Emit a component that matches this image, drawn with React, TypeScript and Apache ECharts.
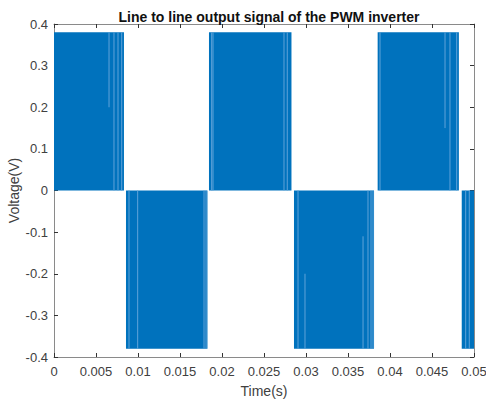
import React, { useEffect, useRef } from "react";
import * as echarts from "echarts";

// Time axis (s) and voltage axis (V)
const xTicks = [0, 0.005, 0.01, 0.015, 0.02, 0.025, 0.03, 0.035, 0.04, 0.045, 0.05];
const yTicks = [-0.4, -0.3, -0.2, -0.1, 0, 0.1, 0.2, 0.3, 0.4];

// Dense PWM switching blocks: [start time, end time, pulse level]
const pulseStart = [0, 0.00857, 0.01845, 0.02857, 0.03853, 0.04854];
const pulseEnd = [0.00833, 0.01827, 0.02827, 0.0381, 0.0482, 0.05];
const pulseLevel = [0.38, -0.38, 0.38, -0.38, 0.38, -0.38];

// Sparse-switching slivers (lighter stripes): time, from, to
const sliverTime = [
  0.00655, 0.00714, 0.00762, 0.00806,
  0.00893, 0.00996, 0.01786, 0.0181,
  0.01877, 0.01893, 0.02738, 0.02777,
  0.02905, 0.02988, 0.03679, 0.03738, 0.03774, 0.03798,
  0.03881, 0.04655, 0.04714, 0.04794,
  0.04901, 0.04944,
];
const sliverFrom = [
  0.38, 0.38, 0.38, 0.38,
  -0.38, -0.38, -0.38, -0.38,
  0.38, 0.38, 0.38, 0.38,
  -0.38, -0.2, -0.11, -0.38, -0.38, -0.38,
  0.38, 0.38, 0.38, 0.38,
  -0.38, -0.38,
];
const sliverTo = [
  0.2, 0, 0, 0,
  0, 0, 0, 0,
  0, 0, 0, 0,
  0, -0.38, -0.38, 0, 0, 0,
  0, 0.15, 0, 0,
  0, 0,
];

const TITLE = "Line to line output signal of the PWM inverter";
const X_NAME = "Time(s)";
const Y_NAME = "Voltage(V)";

export default function App() {
  const ref = useRef<HTMLDivElement>(null);
  useEffect(() => {
    if (!ref.current) return;
    const chart = echarts.init(ref.current, undefined, { renderer: "svg" });
    const blocks = pulseStart.map((s, i) => [s, pulseEnd[i], pulseLevel[i]]);
    const slivers = sliverTime.map((t, i) => [t, sliverFrom[i], sliverTo[i]]);
    const font = "'Liberation Sans', Arial, Helvetica, sans-serif";
    const axisColor = "#8a8a8a";
    const labelColor = "#404040";
    const xCommon = {
      type: "value" as const,
      min: xTicks[0],
      max: xTicks[xTicks.length - 1],
      interval: 0.005,
      splitLine: { show: false },
      axisLine: { show: true, onZero: false, lineStyle: { color: axisColor, width: 1 } },
      axisTick: { show: true, inside: true, length: 4, lineStyle: { color: "#333" } },
    };
    const yCommon = {
      type: "value" as const,
      min: yTicks[0],
      max: yTicks[yTicks.length - 1],
      interval: 0.1,
      splitLine: { show: false },
      axisLine: { show: true, onZero: false, lineStyle: { color: axisColor, width: 1 } },
      axisTick: { show: true, inside: true, length: 4, lineStyle: { color: "#333" } },
    };
    chart.setOption({
      animation: false,
      backgroundColor: "#ffffff",
      title: {
        text: TITLE,
        left: 264,
        top: 5,
        textAlign: "center",
        textStyle: { fontFamily: font, fontSize: 14, fontWeight: "bold", color: "#111" },
      },
      grid: {
        left: 54,
        right: 12,
        top: 24,
        bottom: 44,
        containLabel: false,
        outerBoundsMode: "none",
      },
      xAxis: [
        {
          ...xCommon,
          position: "bottom",
          name: X_NAME,
          nameLocation: "middle",
          nameGap: 27,
          nameMoveOverlap: false,
          nameTextStyle: { fontFamily: font, fontSize: 14, color: labelColor },
          axisLabel: {
            show: true,
            margin: 8,
            fontFamily: font,
            fontSize: 13,
            color: labelColor,
            formatter: (v: number) => String(+v.toFixed(3)),
          },
        },
        { ...xCommon, position: "top", axisLabel: { show: false } },
      ],
      yAxis: [
        {
          ...yCommon,
          position: "left",
          name: Y_NAME,
          nameLocation: "middle",
          nameRotate: 90,
          nameGap: 33,
          nameMoveOverlap: false,
          nameTextStyle: { fontFamily: font, fontSize: 14, color: labelColor },
          axisLabel: {
            show: true,
            margin: 6,
            fontFamily: font,
            fontSize: 13,
            color: labelColor,
            formatter: (v: number) => String(+v.toFixed(1)),
          },
        },
        { ...yCommon, position: "right", axisLabel: { show: false } },
      ],
      series: [
        {
          type: "custom",
          xAxisIndex: 0,
          yAxisIndex: 0,
          data: blocks,
          encode: { x: [0, 1], y: 2 },
          renderItem: (params: any, api: any) => {
            const p0 = api.coord([api.value(0), api.value(2)]);
            const p1 = api.coord([api.value(1), 0]);
            const x = Math.min(p0[0], p1[0]);
            const y = Math.min(p0[1], p1[1]);
            return {
              type: "rect",
              shape: { x, y, width: Math.abs(p1[0] - p0[0]), height: Math.abs(p1[1] - p0[1]) },
              style: { fill: "#0072BD" },
            };
          },
          z: 2,
        },
        {
          type: "custom",
          xAxisIndex: 0,
          yAxisIndex: 0,
          data: slivers,
          encode: { x: 0, y: [1, 2] },
          renderItem: (params: any, api: any) => {
            const a = api.coord([api.value(0), api.value(1)]);
            const b = api.coord([api.value(0), api.value(2)]);
            return {
              type: "line",
              shape: { x1: a[0], y1: a[1], x2: b[0], y2: b[1] },
              style: { stroke: "#5fa3d9", lineWidth: 1 },
            };
          },
          z: 3,
        },
      ],
    });
    return () => chart.dispose();
  }, []);
  return (
    <div
      ref={ref}
      style={{ position: "absolute", left: 0, top: 0, width: 486, height: 401 }}
    />
  );
}
